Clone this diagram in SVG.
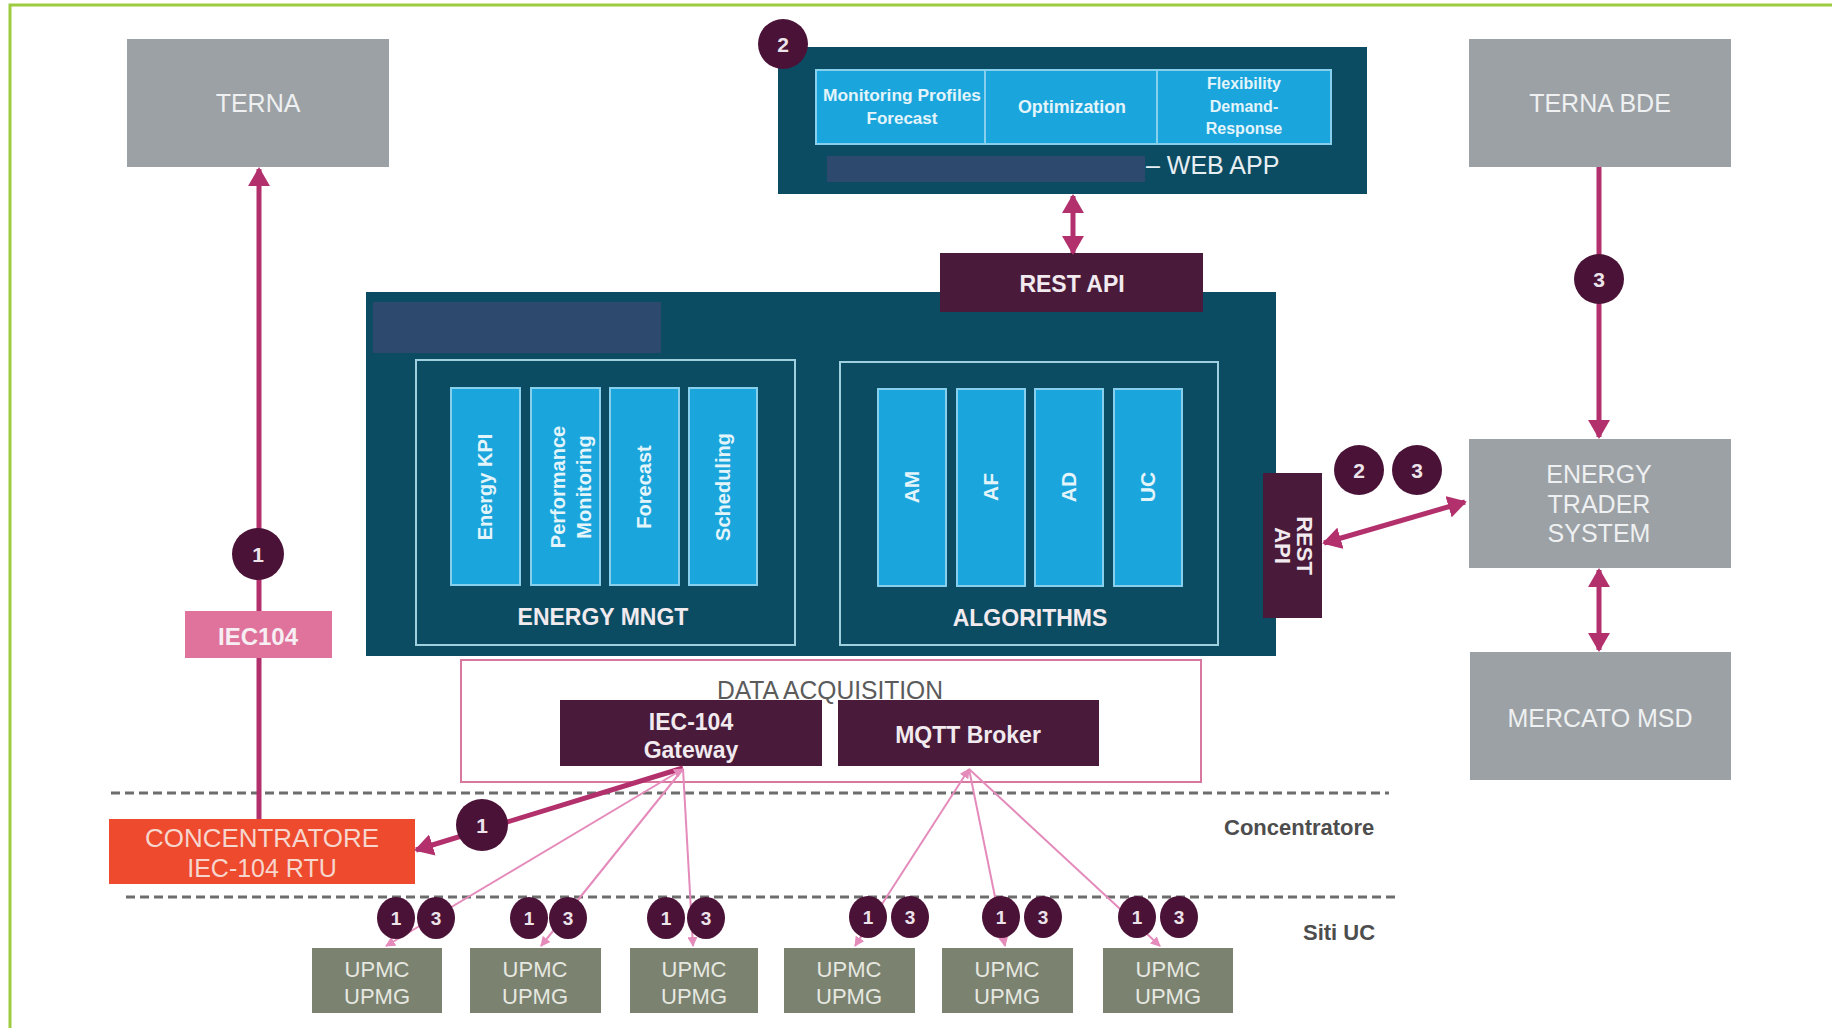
<svg xmlns="http://www.w3.org/2000/svg" width="1832" height="1028" viewBox="0 0 1832 1028">
<defs>
<style>
text{font-family:"Liberation Sans",Arial,sans-serif}
.gray rect{fill:#9ca1a5}
.gray text{fill:#eef0f1;font-size:25px;text-anchor:middle}
.teal{fill:#0c4c63}
.redact{fill:#2d4a6e}
.cell{fill:#1aa6dc;stroke:#86d0ee;stroke-width:2}
.cellt{fill:#e4f4fb;font-weight:bold;text-anchor:middle}
.frame{fill:none;stroke:#9fd0e0;stroke-width:2}
.plum{fill:#4a1a3a}
.plumt{fill:#f1eaee;font-weight:bold;text-anchor:middle}
.upmc rect{fill:#7b8270}
.upmc text{fill:#e6e8e0;font-size:22px;text-anchor:middle}
.badge circle,.badge ellipse{fill:#4b1237}
.badge text{fill:#ece4ea;font-weight:bold;text-anchor:middle}
.lane{fill:#4d4d4d;font-size:22px;font-weight:bold}
.dash{stroke:#6d6d6d;stroke-width:3;stroke-dasharray:9 5}
.link{fill:none;stroke:#b2306c;stroke-width:5}
.thin{fill:none;stroke:#e48bbb;stroke-width:2}
</style>
<marker id="ah" viewBox="0 0 10 10" refX="9" refY="5" markerUnits="userSpaceOnUse" markerWidth="19" markerHeight="22" preserveAspectRatio="none" orient="auto-start-reverse">
<path d="M0,0 L10,5 L0,10 Z" fill="#b2306c"/>
</marker>
<marker id="ahs" viewBox="0 0 10 10" refX="9" refY="5" markerUnits="userSpaceOnUse" markerWidth="10" markerHeight="10" preserveAspectRatio="none" orient="auto-start-reverse">
<path d="M0,0 L10,5 L0,10 Z" fill="#e48bbb"/>
</marker>
</defs>

<rect width="1832" height="1028" fill="#ffffff"/>
<!-- outer green border (top and left edges) -->
<path d="M10,1028 V5 H1832" fill="none" stroke="#9dcb3f" stroke-width="3"/>

<!-- lane separators -->
<g id="lanes">
<line class="dash" x1="111" y1="793" x2="1389" y2="793"/>
<line class="dash" x1="126" y1="897" x2="1400" y2="897"/>
<text class="lane" x="1224" y="835">Concentratore</text>
<text class="lane" x="1303" y="940">Siti UC</text>
</g>

<!-- external systems -->
<g id="terna" class="gray">
<rect x="127" y="39" width="262" height="128"/>
<text x="258" y="112">TERNA</text>
</g>
<g id="terna-bde" class="gray">
<rect x="1469" y="39" width="262" height="128"/>
<text x="1600" y="112">TERNA BDE</text>
</g>
<g id="energy-trader" class="gray">
<rect x="1469" y="439" width="262" height="129"/>
<text x="1599" y="483">ENERGY</text>
<text x="1599" y="513">TRADER</text>
<text x="1599" y="542">SYSTEM</text>
</g>
<g id="mercato-msd" class="gray">
<rect x="1470" y="652" width="261" height="128"/>
<text x="1600" y="727">MERCATO MSD</text>
</g>

<!-- web application -->
<g id="web-app">
<rect class="teal" x="778" y="47" width="589" height="147"/>
<rect class="cell" x="816" y="70" width="169" height="74"/>
<rect class="cell" x="985" y="70" width="172" height="74"/>
<rect class="cell" x="1157" y="70" width="174" height="74"/>
<text class="cellt" x="902" y="101" font-size="17" textLength="158" lengthAdjust="spacingAndGlyphs">Monitoring Profiles</text>
<text class="cellt" x="902" y="124" font-size="17">Forecast</text>
<text class="cellt" x="1072" y="113" font-size="18" textLength="108" lengthAdjust="spacingAndGlyphs">Optimization</text>
<text class="cellt" x="1244" y="89" font-size="16">Flexibility</text>
<text class="cellt" x="1244" y="112" font-size="16">Demand-</text>
<text class="cellt" x="1244" y="134" font-size="16">Response</text>
<rect class="redact" x="827" y="156" width="318" height="26"/>
<text x="1146" y="174" font-size="25" fill="#e8eff2">– WEB APP</text>
</g>

<!-- core platform -->
<g id="platform">
<rect class="teal" x="366" y="292" width="910" height="364"/>
<rect class="redact" x="373" y="302" width="288" height="51"/>
</g>

<g id="energy-mngt">
<rect class="frame" x="416" y="360" width="379" height="285"/>
<rect class="cell" x="451" y="388" width="69" height="197"/>
<rect class="cell" x="531" y="388" width="69" height="197"/>
<rect class="cell" x="610" y="388" width="69" height="197"/>
<rect class="cell" x="689" y="388" width="68" height="197"/>
<text class="cellt" font-size="20" transform="translate(492,487) rotate(-90)">Energy KPI</text>
<text class="cellt" font-size="20" transform="translate(572,487) rotate(-90)"><tspan x="0" y="-7">Performance</tspan><tspan x="0" y="19">Monitoring</tspan></text>
<text class="cellt" font-size="20" transform="translate(651,487) rotate(-90)">Forecast</text>
<text class="cellt" font-size="20" transform="translate(730,487) rotate(-90)">Scheduling</text>
<text class="plumt" x="603" y="625" font-size="23">ENERGY MNGT</text>
</g>

<g id="algorithms">
<rect class="frame" x="840" y="362" width="378" height="283"/>
<rect class="cell" x="878" y="389" width="68" height="197"/>
<rect class="cell" x="957" y="389" width="68" height="197"/>
<rect class="cell" x="1035" y="389" width="68" height="197"/>
<rect class="cell" x="1114" y="389" width="68" height="197"/>
<text class="cellt" font-size="21" transform="translate(919,487) rotate(-90)">AM</text>
<text class="cellt" font-size="21" transform="translate(998,487) rotate(-90)">AF</text>
<text class="cellt" font-size="21" transform="translate(1076,487) rotate(-90)">AD</text>
<text class="cellt" font-size="21" transform="translate(1155,487) rotate(-90)">UC</text>
<text class="plumt" x="1030" y="626" font-size="23">ALGORITHMS</text>
</g>

<g id="rest-api-top">
<rect class="plum" x="940" y="253" width="263" height="59"/>
<text class="plumt" x="1072" y="292" font-size="23">REST API</text>
</g>

<g id="rest-api-side">
<rect class="plum" x="1263" y="473" width="59" height="145"/>
<text class="plumt" font-size="22" transform="translate(1292.5,545.5) rotate(90)"><tspan x="0" y="-4">REST</tspan><tspan x="0" y="18">API</tspan></text>
</g>

<!-- data acquisition -->
<g id="data-acquisition">
<rect x="461" y="660" width="740" height="122" fill="none" stroke="#d9789f" stroke-width="2"/>
<text x="830" y="699" font-size="26" fill="#5b5b5b" text-anchor="middle" textLength="226" lengthAdjust="spacingAndGlyphs">DATA ACQUISITION</text>
</g>
<g id="iec104-gateway">
<rect class="plum" x="560" y="700" width="262" height="66"/>
<text class="plumt" x="691" y="730" font-size="23">IEC-104</text>
<text class="plumt" x="691" y="758" font-size="23">Gateway</text>
</g>
<g id="mqtt-broker">
<rect class="plum" x="838" y="700" width="261" height="66"/>
<text class="plumt" x="968" y="743" font-size="23">MQTT Broker</text>
</g>

<!-- concentrator RTU -->
<g id="concentratore">
<rect x="109" y="819" width="306" height="65" fill="#ee4a2e"/>
<text x="262" y="847" font-size="25" fill="#f6d6cd" text-anchor="middle" textLength="234" lengthAdjust="spacingAndGlyphs">CONCENTRATORE</text>
<text x="262" y="877" font-size="25" fill="#f6d6cd" text-anchor="middle">IEC-104 RTU</text>
</g>

<!-- field units -->
<g id="upmc-1" class="upmc"><rect x="312" y="948" width="130" height="65"/><text x="377" y="977">UPMC</text><text x="377" y="1004">UPMG</text></g>
<g id="upmc-2" class="upmc"><rect x="470" y="948" width="131" height="65"/><text x="535" y="977">UPMC</text><text x="535" y="1004">UPMG</text></g>
<g id="upmc-3" class="upmc"><rect x="630" y="948" width="128" height="65"/><text x="694" y="977">UPMC</text><text x="694" y="1004">UPMG</text></g>
<g id="upmc-4" class="upmc"><rect x="784" y="948" width="131" height="65"/><text x="849" y="977">UPMC</text><text x="849" y="1004">UPMG</text></g>
<g id="upmc-5" class="upmc"><rect x="942" y="948" width="131" height="65"/><text x="1007" y="977">UPMC</text><text x="1007" y="1004">UPMG</text></g>
<g id="upmc-6" class="upmc"><rect x="1103" y="948" width="130" height="65"/><text x="1168" y="977">UPMC</text><text x="1168" y="1004">UPMG</text></g>

<!-- connectors -->
<g id="connectors">
<line class="link" x1="259" y1="819" x2="259" y2="169" marker-end="url(#ah)"/>
<line class="link" x1="1073" y1="196" x2="1073" y2="253" marker-start="url(#ah)" marker-end="url(#ah)"/>
<line class="link" x1="1599" y1="167" x2="1599" y2="437" marker-end="url(#ah)"/>
<line class="link" x1="1599" y1="570" x2="1599" y2="650" marker-start="url(#ah)" marker-end="url(#ah)"/>
<line class="link" x1="1324" y1="543" x2="1465" y2="502" marker-start="url(#ah)" marker-end="url(#ah)"/>
<line class="link" x1="683" y1="768" x2="416" y2="850" marker-end="url(#ah)"/>
<line class="thin" x1="683" y1="769" x2="386" y2="946" marker-start="url(#ahs)" marker-end="url(#ahs)"/>
<line class="thin" x1="683" y1="769" x2="541" y2="946" marker-end="url(#ahs)"/>
<line class="thin" x1="683" y1="769" x2="693" y2="946" marker-end="url(#ahs)"/>
<line class="thin" x1="969" y1="769" x2="855" y2="946" marker-start="url(#ahs)" marker-end="url(#ahs)"/>
<line class="thin" x1="969" y1="769" x2="1005" y2="946" marker-end="url(#ahs)"/>
<line class="thin" x1="969" y1="769" x2="1160" y2="946" marker-end="url(#ahs)"/>
</g>

<!-- protocol label on the TERNA link -->
<g id="iec104-label">
<rect x="185" y="611" width="147" height="47" fill="#df739c"/>
<text x="258" y="645" font-size="24" font-weight="bold" fill="#f6eef2" text-anchor="middle">IEC104</text>
</g>

<!-- flow number badges -->
<g id="badges">
<g class="badge"><circle cx="783" cy="44" r="25"/><text x="783" y="52" font-size="21">2</text></g>
<g class="badge"><circle cx="1599" cy="279" r="25"/><text x="1599" y="287" font-size="21">3</text></g>
<g class="badge"><circle cx="258" cy="554" r="26"/><text x="258" y="562" font-size="21">1</text></g>
<g class="badge"><circle cx="482" cy="825" r="26"/><text x="482" y="833" font-size="21">1</text></g>
<g class="badge"><circle cx="1359" cy="470" r="25"/><text x="1359" y="478" font-size="21">2</text></g>
<g class="badge"><circle cx="1417" cy="470" r="25"/><text x="1417" y="478" font-size="21">3</text></g>
<g class="badge"><ellipse cx="396" cy="918" rx="19" ry="21"/><text x="396" y="925" font-size="19">1</text></g>
<g class="badge"><ellipse cx="436" cy="918" rx="19" ry="21"/><text x="436" y="925" font-size="19">3</text></g>
<g class="badge"><ellipse cx="529" cy="918" rx="19" ry="21"/><text x="529" y="925" font-size="19">1</text></g>
<g class="badge"><ellipse cx="568" cy="918" rx="19" ry="21"/><text x="568" y="925" font-size="19">3</text></g>
<g class="badge"><ellipse cx="666" cy="918" rx="19" ry="21"/><text x="666" y="925" font-size="19">1</text></g>
<g class="badge"><ellipse cx="706" cy="918" rx="19" ry="21"/><text x="706" y="925" font-size="19">3</text></g>
<g class="badge"><ellipse cx="868" cy="917" rx="19" ry="21"/><text x="868" y="924" font-size="19">1</text></g>
<g class="badge"><ellipse cx="910" cy="917" rx="19" ry="21"/><text x="910" y="924" font-size="19">3</text></g>
<g class="badge"><ellipse cx="1001" cy="917" rx="19" ry="21"/><text x="1001" y="924" font-size="19">1</text></g>
<g class="badge"><ellipse cx="1043" cy="917" rx="19" ry="21"/><text x="1043" y="924" font-size="19">3</text></g>
<g class="badge"><ellipse cx="1137" cy="917" rx="19" ry="21"/><text x="1137" y="924" font-size="19">1</text></g>
<g class="badge"><ellipse cx="1179" cy="917" rx="19" ry="21"/><text x="1179" y="924" font-size="19">3</text></g>
</g>
</svg>
